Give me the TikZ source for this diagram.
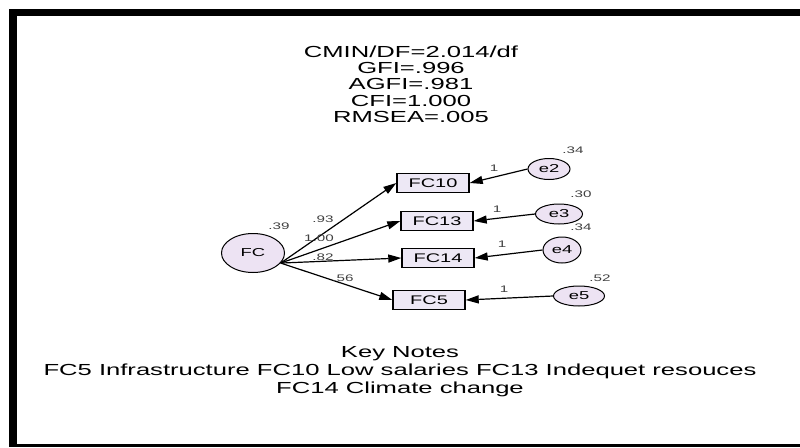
\documentclass[tikz,border=0pt]{standalone}
\usepackage{fontspec}
\setmainfont{Liberation Sans}
\usepackage{xcolor}
\usepackage{tikz}
\usetikzlibrary{arrows.meta,shapes.geometric}
\definecolor{nodefill}{HTML}{EDE3F3}
\definecolor{boxfill}{HTML}{EDE8F5}
\newcommand{\stretchtxt}[1]{\scalebox{1.6}[1]{#1}}

\begin{document}
\begin{tikzpicture}[x=1pt,y=-1pt,
  latent/.style={ellipse,draw,line width=1pt,fill=nodefill,inner sep=0pt,font=\fontsize{11.5}{11.5}\selectfont},
  obsbox/.style={rectangle,draw,line width=1.4pt,fill=boxfill,minimum width=72pt,minimum height=19pt,inner sep=0pt,font=\fontsize{12.5}{12.5}\selectfont},
  coef/.style={font=\fontsize{9.5}{10}\selectfont,text=black!75,inner sep=0pt},
  path/.style={line width=1.2pt,-{Triangle[length=13pt,width=8pt]}}]
  \useasboundingbox (0,0) rectangle (800,447);
  % frame
  \fill (9,9) rectangle (800,16);
  \fill (9,9) rectangle (17,447);
  \fill (9,444) rectangle (800,447);
  % fit indices
  \node[align=center,font=\fontsize{16}{16.3}\selectfont] (fit) at (411,84)
    {\stretchtxt{CMIN/DF=2.014/df}\\\stretchtxt{GFI=.996}\\\stretchtxt{AGFI=.981}\\\stretchtxt{CFI=1.000}\\\stretchtxt{RMSEA=.005}};
  % model
  \node[latent,minimum width=63pt,minimum height=39pt] (fc) at (253,253) {\stretchtxt{FC}};
  \node[obsbox] (fc10) at (433,183) {\stretchtxt{FC10}};
  \node[obsbox] (fc13) at (437,221) {\stretchtxt{FC13}};
  \node[obsbox] (fc14) at (438,258) {\stretchtxt{FC14}};
  \node[obsbox] (fc5) at (429,300) {\stretchtxt{FC5}};
  \node[latent,minimum width=42pt,minimum height=21pt] (e2) at (549,169) {\stretchtxt{e2}};
  \node[latent,minimum width=47pt,minimum height=20pt] (e3) at (559,214) {\stretchtxt{e3}};
  \node[latent,minimum width=38pt,minimum height=26pt] (e4) at (562,250) {\stretchtxt{e4}};
  \node[latent,minimum width=51pt,minimum height=20pt] (e5) at (579,296) {\stretchtxt{e5}};
  \foreach \b in {fc10,fc13,fc14,fc5}
    \draw[path] (fc.-20) -- (\b.west);
  \foreach \e/\b in {e2/fc10,e3/fc13,e4/fc14,e5/fc5}
    \draw[path] (\e.west) -- (\b.east);
  % estimates
  \node[coef] (vfc) at (279,226) {\stretchtxt{.39}};
  \foreach \x/\y/\n/\v in {323/219/w10/.93,319/238/w13/1.00,323/257/w14/.82,343/278/w5/.56,
      494/168/u10/1,497/209/u13/1,502/244/u14/1,504/289/u5/1,
      573/150/v2/.34,581/194/v3/.30,581/227/v4/.34,600/278/v5/.52}
    \node[coef] (\n) at (\x,\y) {\stretchtxt{\v}};
  % key notes
  \node[align=center,font=\fontsize{16}{18}\selectfont] (notes) at (400,372)
    {\stretchtxt{Key Notes}\\\stretchtxt{FC5 Infrastructure FC10 Low salaries FC13 Indequet resouces}\\\stretchtxt{FC14 Climate change}};
\end{tikzpicture}
\end{document}
